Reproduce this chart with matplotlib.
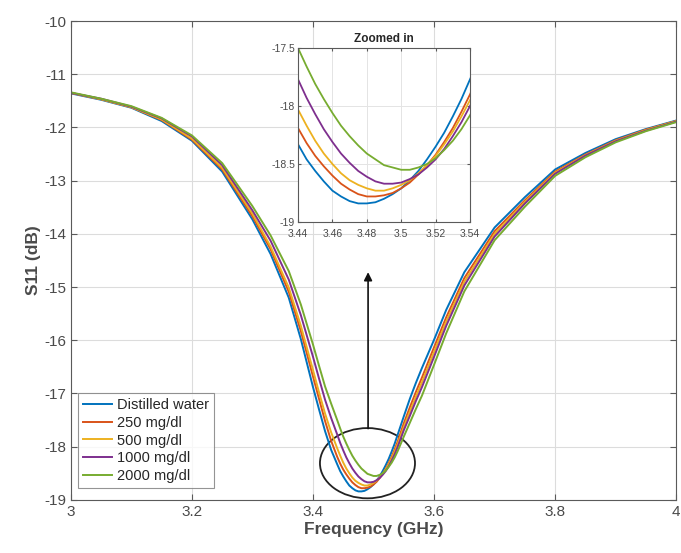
import numpy as np
import matplotlib
matplotlib.use("Agg")
import matplotlib.pyplot as plt
from matplotlib.patches import Ellipse

plt.rcParams['font.family'] = ['Liberation Sans', 'DejaVu Sans']
plt.rcParams['axes.unicode_minus'] = False

# frequency points (GHz)
freq = [3.00, 3.05, 3.10, 3.15, 3.20, 3.25, 3.30, 3.33, 3.36, 3.38, 3.40, 3.41, 3.42, 3.43,
        3.440, 3.445, 3.450, 3.455, 3.460, 3.465, 3.470, 3.475, 3.480, 3.485, 3.490,
        3.495, 3.500, 3.505, 3.510, 3.515, 3.520, 3.525, 3.530, 3.535, 3.540,
        3.55, 3.56, 3.57, 3.58, 3.60, 3.62, 3.65, 3.70, 3.75, 3.80, 3.85, 3.90, 3.95, 4.00]

s11_water = [-11.36, -11.48, -11.63, -11.88, -12.25, -12.83, -13.73, -14.38, -15.20, -15.98,
             -16.88, -17.30, -17.71, -18.06,
             -18.33, -18.46, -18.56, -18.65, -18.73, -18.78, -18.82, -18.84, -18.84, -18.83, -18.80,
             -18.76, -18.71, -18.64, -18.56, -18.46, -18.35, -18.23, -18.09, -17.94, -17.77,
             -17.43, -17.10, -16.80, -16.52, -15.99, -15.43, -14.72, -13.88, -13.31, -12.79,
             -12.48, -12.22, -12.03, -11.87]
s11_250 = [-11.35, -11.47, -11.62, -11.86, -12.23, -12.79, -13.67, -14.29, -15.09, -15.83,
           -16.68, -17.10, -17.52, -17.89,
           -18.19, -18.32, -18.43, -18.52, -18.60, -18.67, -18.72, -18.76, -18.78, -18.78, -18.77,
           -18.75, -18.71, -18.66, -18.59, -18.51, -18.42, -18.31, -18.19, -18.05, -17.90,
           -17.56, -17.26, -16.97, -16.70, -16.13, -15.57, -14.83, -13.95, -13.37, -12.83,
           -12.51, -12.24, -12.04, -11.88]
s11_500 = [-11.35, -11.47, -11.62, -11.85, -12.21, -12.76, -13.62, -14.24, -15.01, -15.73,
           -16.56, -16.98, -17.38, -17.73,
           -18.03, -18.17, -18.30, -18.41, -18.50, -18.58, -18.64, -18.68, -18.71, -18.73, -18.73,
           -18.71, -18.68, -18.64, -18.58, -18.51, -18.43, -18.33, -18.22, -18.09, -17.95,
           -17.63, -17.34, -17.06, -16.79, -16.22, -15.65, -14.90, -14.00, -13.40, -12.85,
           -12.52, -12.25, -12.05, -11.88]
s11_1000 = [-11.35, -11.46, -11.61, -11.83, -12.17, -12.71, -13.56, -14.13, -14.86, -15.53,
            -16.31, -16.72, -17.12, -17.46,
            -17.77, -17.93, -18.07, -18.20, -18.31, -18.41, -18.49, -18.56, -18.61, -18.65, -18.67,
            -18.67, -18.66, -18.63, -18.59, -18.53, -18.46, -18.37, -18.26, -18.14, -18.00,
            -17.69, -17.42, -17.14, -16.88, -16.31, -15.73, -14.97, -14.05, -13.43, -12.87,
            -12.53, -12.26, -12.06, -11.89]
s11_2000 = [-11.34, -11.46, -11.60, -11.82, -12.15, -12.67, -13.48, -14.03, -14.70, -15.33,
            -16.08, -16.48, -16.87, -17.19,
            -17.50, -17.66, -17.81, -17.94, -18.06, -18.17, -18.26, -18.34, -18.41, -18.46, -18.51,
            -18.53, -18.55, -18.55, -18.53, -18.50, -18.45, -18.38, -18.30, -18.20, -18.08,
            -17.81, -17.55, -17.29, -17.04, -16.46, -15.87, -15.08, -14.12, -13.49, -12.91,
            -12.56, -12.28, -12.07, -11.90]

labels = ['Distilled water', '250 mg/dl', '500 mg/dl', '1000 mg/dl', '2000 mg/dl']
colors = ['#0072BD', '#D95319', '#EDB120', '#7E2F8E', '#77AC30']
series = [s11_water, s11_250, s11_500, s11_1000, s11_2000]

xticks = [3, 3.2, 3.4, 3.6, 3.8, 4]
xticklabels = ['3', '3.2', '3.4', '3.6', '3.8', '4']
yticks = list(range(-19, -9))
inset_xticks = [3.44, 3.46, 3.48, 3.50, 3.52, 3.54]
inset_xticklabels = ['3.44', '3.46', '3.48', '3.5', '3.52', '3.54']
inset_yticks = [-19, -18.5, -18, -17.5]
inset_yticklabels = ['-19', '-18.5', '-18', '-17.5']

# annotation geometry (data coords)
ell_center = (3.490, -18.31)
ell_w, ell_h = 0.157, 1.32
arrow_x = 3.491
arrow_from = -17.66
arrow_to = -14.72

axcol = '#5a5a5a'
txtcol = '#4a4a4a'

fig = plt.figure(figsize=(6.81, 5.53), dpi=100)
ax = fig.add_axes([0.104, 0.096, 0.889, 0.866])

for y, c, lab in zip(series, colors, labels):
    ax.plot(freq, y, color=c, lw=1.4, label=lab)

ax.set_xlim(3, 4)
ax.set_ylim(-19, -10)
ax.set_xticks(xticks)
ax.set_xticklabels(xticklabels)
ax.set_yticks(yticks)
ax.grid(True, color='#dcdcdc', lw=0.8)
ax.set_axisbelow(True)
for sp in ax.spines.values():
    sp.set_color(axcol)
    sp.set_linewidth(0.8)
ax.tick_params(direction='in', length=4, colors=axcol, labelcolor=txtcol, labelsize=11,
               top=True, right=True)
ax.set_xlabel('Frequency (GHz)', fontsize=12.5, fontweight='bold', color=txtcol, labelpad=2)
ax.set_ylabel('S11 (dB)', fontsize=12.5, fontweight='bold', color=txtcol, labelpad=2)

leg = ax.legend(loc='lower left', bbox_to_anchor=(0.012, 0.025), fontsize=10.5,
                frameon=True, fancybox=False, handlelength=2.0, handletextpad=0.3,
                labelspacing=0.25, borderpad=0.35, borderaxespad=0.0)
leg.get_frame().set_edgecolor('#7a7a7a')
leg.get_frame().set_linewidth(0.8)
for t in leg.get_texts():
    t.set_color('#262626')

ax.add_patch(Ellipse(ell_center, ell_w, ell_h, fill=False, edgecolor='#222222', lw=1.3))
ax.annotate('', xy=(arrow_x, arrow_to), xytext=(arrow_x, arrow_from),
            arrowprops=dict(arrowstyle='-|>', color='#111111', lw=1.2,
                            mutation_scale=12, shrinkA=0, shrinkB=0))

# inset
axi = fig.add_axes([0.4376, 0.5986, 0.2526, 0.3146])
for y, c in zip(series, colors):
    axi.plot(freq, y, color=c, lw=1.3)
axi.set_xlim(3.44, 3.54)
axi.set_ylim(-19, -17.5)
axi.set_xticks(inset_xticks)
axi.set_xticklabels(inset_xticklabels)
axi.set_yticks(inset_yticks)
axi.set_yticklabels(inset_yticklabels)
axi.grid(True, color='#e4e4e4', lw=0.7)
axi.set_axisbelow(True)
for sp in axi.spines.values():
    sp.set_color(axcol)
    sp.set_linewidth(0.8)
axi.tick_params(direction='in', length=2.5, colors=axcol, labelcolor=txtcol, labelsize=7.5,
                top=True, right=True)
axi.tick_params(axis='x', pad=5)
axi.tick_params(axis='y', pad=2)
axi.set_title('Zoomed in', fontsize=8.5, fontweight='bold', color='#262626', pad=4)
axi.set_facecolor('white')

fig.savefig('out.png', dpi=100)
